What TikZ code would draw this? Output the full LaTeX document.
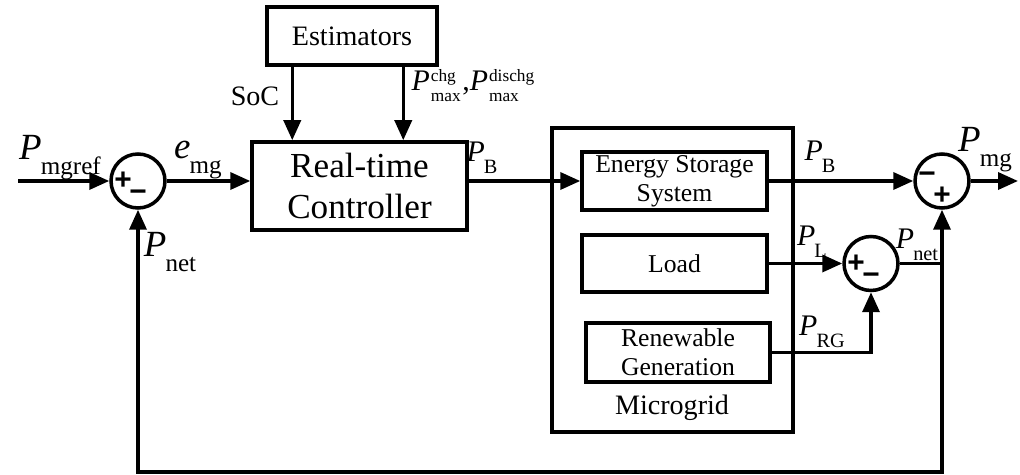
\documentclass[tikz,border=0pt]{standalone}
\usepackage{fontspec}
\setmainfont{Liberation Serif}
\newfontfamily\signfont{Liberation Sans}
\usepackage{graphicx}
\usetikzlibrary{arrows.meta,calc}

% signal name: italic letter with upright subscript
\newcommand{\sig}[2]{\textit{#1}\kern-0.5pt\raisebox{-0.4em}{\scalebox{0.68}{#2}}}
% signal name with upright super- and subscript
\newcommand{\sigud}[3]{\textit{#1}\kern0.5pt\raisebox{-0.05em}{\scalebox{0.58}{\begin{tabular}[c]{@{}l@{}}#2\\[0.15em]#3\end{tabular}}}}

\begin{document}
\begin{tikzpicture}[x=0.02cm,y=-0.02cm,line width=2pt,
    >={Triangle[length=4mm,width=3.4mm]},
    blk/.style={draw,rectangle,inner sep=0pt,align=center},
    sum/.style={draw,circle,minimum size=1.08cm,inner sep=0pt},
    sgn/.style={inner sep=0pt,font=\fontsize{17}{17}\selectfont\signfont\bfseries},
    lbl/.style={inner sep=0pt,font=\fontsize{17}{17}\selectfont},
    biglbl/.style={inner sep=0pt,font=\fontsize{21}{21}\selectfont}]
    \useasboundingbox (0,0) rectangle (1020,475);

    % blocks
    \node[blk,minimum width=3.4cm,minimum height=1.16cm,font=\fontsize{16}{18}\selectfont] (est) at (352,36) {Estimators};
    \node[blk,minimum width=4.3cm,minimum height=1.76cm,font=\fontsize{20}{23.5}\selectfont] (ctrl) at (359.5,186) {Real-time\\Controller};
    \node[blk,minimum width=4.82cm,minimum height=6.08cm] (mg) at (672.5,280) {};
    \node[blk,minimum width=3.7cm,minimum height=1.16cm,font=\fontsize{14.6}{16.5}\selectfont] (ess) at (674.5,181) {Energy Storage\\System};
    \node[blk,minimum width=3.7cm,minimum height=1.14cm,font=\fontsize{14.6}{16.5}\selectfont] (load) at (674.5,263.5) {Load};
    \node[blk,minimum width=3.68cm,minimum height=1.18cm,font=\fontsize{14.6}{16.5}\selectfont] (rg) at (678,352.5) {Renewable\\Generation};
    \node[inner sep=0pt,font=\fontsize{16}{16}\selectfont] (mgname) at (672,408) {Microgrid};

    % summing junctions
    \node[sum] (s1) at (138,181) {};
    \node[sum] (s2) at (871,263.5) {};
    \node[sum] (s3) at (942,181) {};
    \node[sgn] (s1p) at ($(s1)+(-15,0)$) {+};
    \node[sgn] (s1m) at ($(s1)+(0,15)$) {−};
    \node[sgn] (s2p) at ($(s2)+(-15,0)$) {+};
    \node[sgn] (s2m) at ($(s2)+(0,15)$) {−};
    \node[sgn] (s3m) at ($(s3)+(-15,-3)$) {−};
    \node[sgn] (s3p) at ($(s3)+(0,15)$) {+};

    \coordinate (in) at (18,181);
    \coordinate (out) at (1018,181);
    \coordinate (soc) at ($(est.south west)+(27,0)$);
    \coordinate (pmx) at ($(est.south west)+(138,0)$);
    \coordinate (j) at (s3 |- s2);
    \coordinate (fb) at (942,472);

    % connectors
    \draw[->] (in) -- (s1);
    \draw[->] (s1) -- (s1 -| ctrl.west);
    \draw[->] (soc) -- (soc |- ctrl.north);
    \draw[->] (pmx) -- (pmx |- ctrl.north);
    \draw[->] (ess -| ctrl.east) -- (ess.west);
    \draw[->] (ess.east) -- (s3.west);
    \draw[->] (s3.east) -- (out);
    \draw[->] (load.east) -- (s2.west);
    \draw[->] (rg.east) -| (s2.south);
    \draw (s2.east) -- (j);
    \draw[->] (j) -- (s3.south);
    \draw[->] (j) -- (fb) -| (s1.south);

    % signal labels
    \node[biglbl] (pref) at (60,158) {\sig{P}{mgref}};
    \node[biglbl] (emg) at (198,160) {\sig{e}{mg}};
    \node[biglbl] (pnet1) at (170,252) {\sig{P}{net}};
    \node[lbl,font=\fontsize{16}{16}\selectfont] (soclbl) at (255,96) {SoC};
    \node[lbl] (pmxlbl) at (473,88) {\sigud{P}{chg}{max}\kern1pt,\sigud{P}{dischg}{max}};
    \node[lbl] (pb1) at (482,158) {\sig{P}{B}};
    \node[lbl] (pb2) at (820,157) {\sig{P}{B}};
    \node[biglbl] (pmg) at (985,150) {\sig{P}{mg}};
    \node[lbl] (pl) at (812,242) {\sig{P}{L}};
    \node[lbl] (pnet2) at (917,245) {\sig{P}{net}};
    \node[lbl] (prg) at (822,332) {\sig{P}{RG}};
\end{tikzpicture}
\end{document}
